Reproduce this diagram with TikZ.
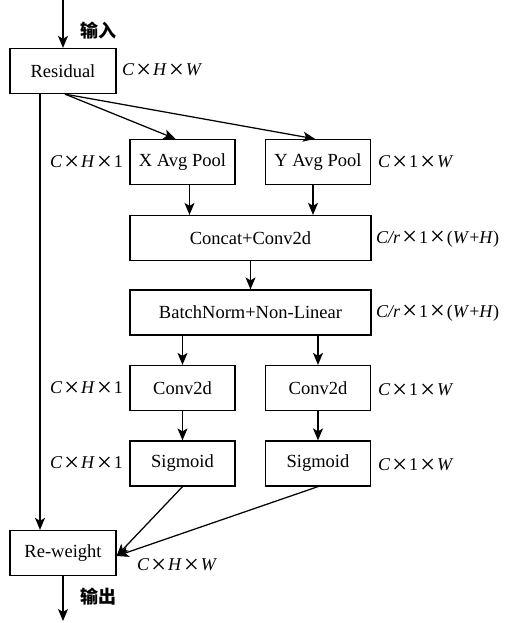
\documentclass[tikz,border=0pt]{standalone}
\usepackage{graphicx}
\usepackage{fontspec}
\setmainfont{Liberation Serif}
\newfontfamily\cjk{Noto Sans CJK SC}
\usetikzlibrary{arrows.meta}
\newcommand\tx{\hspace{0.1em}\raisebox{-0.14em}{\scalebox{1.5}{×}}\hspace{0.1em}}
\tikzset{
  box/.style={draw, line width=1.25pt, minimum height=45pt, inner sep=0pt, font=\fontsize{18.5}{21}\selectfont},
  lbl/.style={inner sep=0pt, font=\fontsize{18}{21}\selectfont},
  zh/.style={inner sep=0pt, font=\fontsize{18}{21}\selectfont\cjk\bfseries},
  arr/.style={line width=1.25pt, -{Stealth[length=12pt,width=10pt,inset=3pt]}},
}
\begin{document}
\begin{tikzpicture}[x=1pt,y=-1pt]
\useasboundingbox (0,0) rectangle (504,623);
\node[box, minimum width=106pt] (res) at (63,71) {Residual};
\node[box, minimum width=105pt] (xp) at (182.5,162) {X Avg Pool};
\node[box, minimum width=105pt] (yp) at (318,162) {Y Avg Pool};
\node[box, minimum width=241pt] (cc) at (250.5,238) {Concat+Conv2d};
\node[box, minimum width=241pt] (bn) at (250.5,312.5) {BatchNorm+Non-Linear};
\node[box, minimum width=105pt] (c1) at (182.5,388) {Conv2d};
\node[box, minimum width=105pt] (c2) at (318,388) {Conv2d};
\node[box, minimum width=105pt] (s1) at (182.5,463.5) {Sigmoid};
\node[box, minimum width=105pt] (s2) at (318,463.5) {Sigmoid};
\node[box, minimum width=106pt] (rw) at (63,553) {Re-weight};
\coordinate (in) at (63,0);
\coordinate (out) at (63,621);
% labels
\node[zh] (lin) at (98,31) {输入};
\node[zh] (lout) at (98,597) {输出};
\node[lbl, anchor=west] (d0) at (122,71) {\textit{C}\tx\textit{H}\tx\textit{W}};
\node[lbl, anchor=east] (d1) at (123,163) {\textit{C}\tx\textit{H}\tx1};
\node[lbl, anchor=west] (d2) at (378,163) {\textit{C}\tx1\tx\textit{W}};
\node[lbl, anchor=west] (d3) at (376,239) {\textit{C/r}\tx1\tx(\textit{W}+\textit{H})};
\node[lbl, anchor=west] (d4) at (376,313) {\textit{C/r}\tx1\tx(\textit{W}+\textit{H})};
\node[lbl, anchor=east] (d5) at (123,389) {\textit{C}\tx\textit{H}\tx1};
\node[lbl, anchor=west] (d6) at (378,391) {\textit{C}\tx1\tx\textit{W}};
\node[lbl, anchor=east] (d7) at (123,464) {\textit{C}\tx\textit{H}\tx1};
\node[lbl, anchor=west] (d8) at (378,466) {\textit{C}\tx1\tx\textit{W}};
\node[lbl, anchor=west] (d9) at (137,566) {\textit{C}\tx\textit{H}\tx\textit{W}};
% connectors
\draw[arr] (in) -- (res.north);
\draw[arr] ([xshift=2pt]res.south) -- ([xshift=-7pt]xp.north);
\draw[arr] ([xshift=2pt]res.south) -- ([xshift=-3pt]yp.north);
\draw[arr] ([xshift=7pt]xp.south) -- ([xshift=7pt]xp.south |- cc.north);
\draw[arr] ([xshift=-5pt]yp.south) -- ([xshift=-5pt]yp.south |- cc.north);
\draw[arr] (cc.south) -- (bn.north);
\draw[arr] (bn.south -| c1.north) -- (c1.north);
\draw[arr] (bn.south -| c2.north) -- (c2.north);
\draw[arr] (c1) -- (s1);
\draw[arr] (c2) -- (s2);
\draw[arr] ([xshift=-23pt]res.south) -- ([xshift=-23pt]rw.north);
\draw[arr] (s1.south) -- ([yshift=-3pt]rw.east);
\draw[arr] (s2.south) -- ([yshift=-3pt]rw.east);
\draw[arr] (rw.south) -- (out);
\end{tikzpicture}
\end{document}
